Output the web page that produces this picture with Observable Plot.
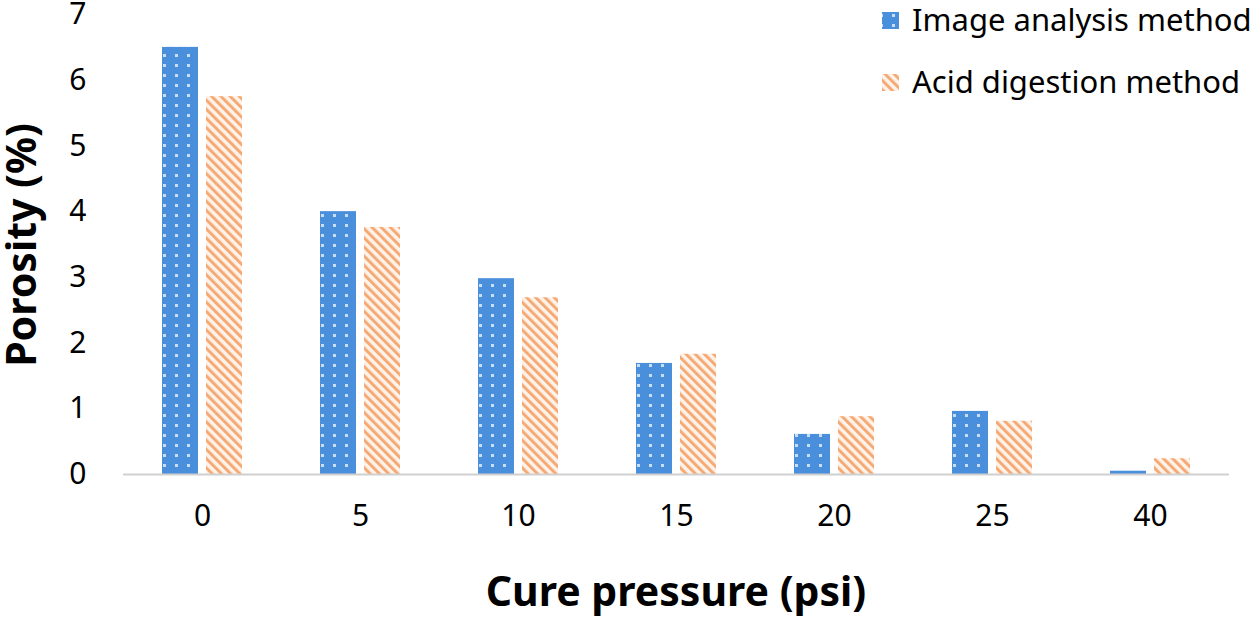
<!DOCTYPE html>
<html>
<head>
<meta charset="utf-8">
<script src="https://cdn.jsdelivr.net/npm/d3@7"></script>
<script src="https://cdn.jsdelivr.net/npm/@observablehq/plot@0.6"></script>
<style>
  html, body { margin: 0; padding: 0; background: #fff; }
  #chart { width: 1260px; height: 621px; }
</style>
</head>
<body>
<div id="chart"></div>
<script>
const pressures = ["0", "5", "10", "15", "20", "25", "40"];
const seriesNames = ["Image analysis method", "Acid digestion method"];
const imageAnalysis = [6.5, 4.0, 2.98, 1.69, 0.61, 0.96, 0.05];
const acidDigestion = [5.75, 3.76, 2.69, 1.83, 0.88, 0.81, 0.24];
const yTicks = [0, 1, 2, 3, 4, 5, 6, 7];

const data = [];
pressures.forEach((p, i) => {
  data.push({pressure: p, method: seriesNames[0], value: imageAnalysis[i]});
  data.push({pressure: p, method: seriesNames[1], value: acidDigestion[i]});
});

const font = "'Noto Sans', sans-serif";

const plot = Plot.plot({
  width: 1260,
  height: 621,
  marginLeft: 120,
  marginRight: 28,
  marginTop: 14,
  marginBottom: 147,
  style: {fontFamily: font, fontSize: "29px", color: "#000", background: "#fff"},
  fx: {domain: pressures, padding: 0, label: null},
  x: {domain: seriesNames, paddingInner: 0.18, paddingOuter: 0.86, axis: null},
  y: {domain: [0, 7], ticks: yTicks, label: null},
  color: {domain: seriesNames, range: ["url(#patBlue)", "url(#patOrange)"]},
  marks: [
    Plot.axisFx({anchor: "bottom", tickSize: 0, tickPadding: 30, label: null, fontSize: 30}),
    Plot.axisY({ticks: yTicks, tickSize: 0, tickPadding: 37, tickFormat: "d", label: null, fontSize: 30}),
    Plot.barY(data, {fx: "pressure", x: "method", y: "value", fill: "method"}),
    Plot.ruleY([0], {stroke: "#d0d0d0", strokeWidth: 2, facetAnchor: null})
  ]
});

const svg = d3.select(plot);
const defs = svg.insert("defs", ":first-child");
// blue dotted grid pattern
const pb = defs.append("pattern").attr("id", "patBlue").attr("patternUnits", "userSpaceOnUse")
  .attr("width", 12).attr("height", 10);
pb.append("rect").attr("width", 12).attr("height", 10).attr("fill", "#4a8fdb");
pb.append("rect").attr("x", 4).attr("y", 4).attr("width", 3).attr("height", 3).attr("fill", "#c9ddf4");
// orange diagonal hatch
const po = defs.append("pattern").attr("id", "patOrange").attr("patternUnits", "userSpaceOnUse")
  .attr("width", 6.5).attr("height", 6.5).attr("patternTransform", "rotate(-45)");
po.append("rect").attr("width", 6.5).attr("height", 6.5).attr("fill", "#fef3ea");
po.append("rect").attr("width", 3).attr("height", 6.5).attr("fill", "#f5aa75");

// axis titles
svg.append("text")
  .attr("transform", "translate(36,245) rotate(-90)")
  .attr("text-anchor", "middle")
  .attr("font-family", font).attr("font-weight", "bold").attr("font-size", 41)
  .attr("fill", "#000").text("Porosity (%)");
svg.append("text")
  .attr("x", 676).attr("y", 606)
  .attr("text-anchor", "middle")
  .attr("font-family", font).attr("font-weight", "bold").attr("font-size", 41)
  .attr("fill", "#000").text("Cure pressure (psi)");

// legend
const legend = svg.append("g").attr("text-anchor", "start");
seriesNames.forEach((name, i) => {
  const y = 20 + i * 62;
  legend.append("rect").attr("x", 882).attr("y", y - 8).attr("width", 17).attr("height", 17)
    .attr("fill", i === 0 ? "url(#patBlue)" : "url(#patOrange)");
  legend.append("text").attr("x", 912).attr("y", y).attr("dy", "0.36em")
    .attr("text-anchor", "start")
    .attr("font-family", font).attr("font-size", 31).attr("fill", "#000").text(name);
});

document.getElementById("chart").appendChild(plot);
</script>
</body>
</html>
